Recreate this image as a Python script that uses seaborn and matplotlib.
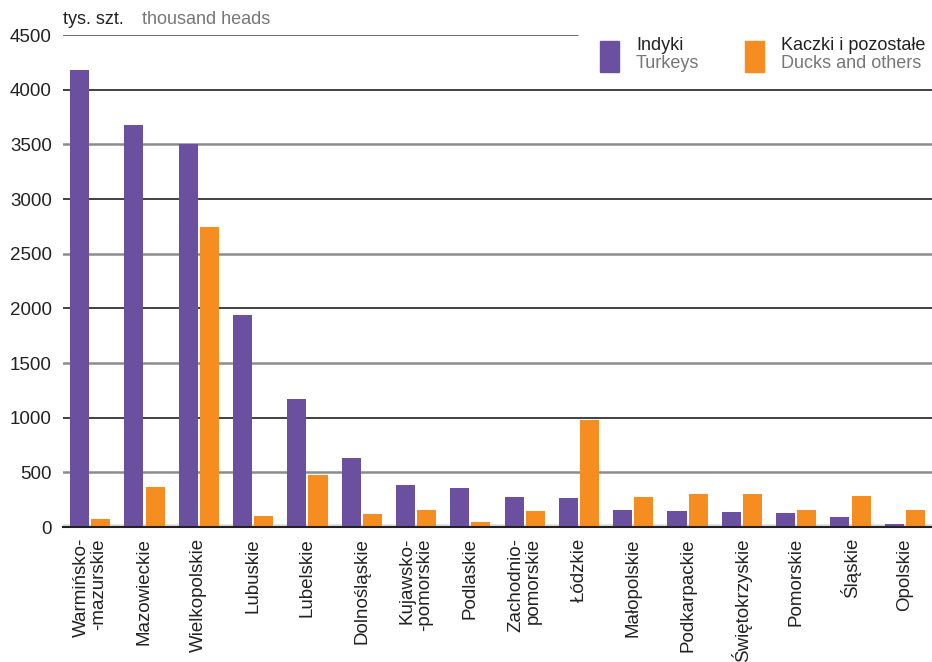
import pandas as pd
import seaborn as sns
import matplotlib.pyplot as plt
from matplotlib.patches import Rectangle

# Data (thousand heads)
regions = ['Warmińsko-\n-mazurskie', 'Mazowieckie', 'Wielkopolskie', 'Lubuskie',
           'Lubelskie', 'Dolnośląskie', 'Kujawsko-\n-pomorskie', 'Podlaskie',
           'Zachodnio-\npomorskie', 'Łódzkie', 'Małopolskie', 'Podkarpackie',
           'Świętokrzyskie', 'Pomorskie', 'Śląskie', 'Opolskie']
turkeys = [4180, 3680, 3505, 1938, 1168, 628, 380, 353, 270, 261, 151, 142, 133, 124, 96, 32]
ducks = [70, 362, 2745, 105, 472, 115, 151, 50, 142, 977, 270, 298, 298, 160, 280, 160]
series_pl = ['Indyki', 'Kaczki i pozostałe']
series_en = ['Turkeys', 'Ducks and others']
yticks = [0, 500, 1000, 1500, 2000, 2500, 3000, 3500, 4000, 4500]

purple = '#6b50a0'
orange = '#f58d20'

df = pd.DataFrame({'region': regions * 2,
                   'value': turkeys + ducks,
                   'series': [series_pl[0]] * len(regions) + [series_pl[1]] * len(regions)})

sns.set_style('white')
plt.rcParams['font.family'] = ['Liberation Sans', 'DejaVu Sans']

fig = plt.figure(figsize=(9.32, 6.62), dpi=100)
ax = fig.add_axes([63 / 932, 1 - 527 / 662, 1 - 63 / 932, (527 - 35) / 662])

# Gridlines: dark at thousands, grey at the halves
for v in yticks[1:-1]:
    if v % 1000 == 0:
        ax.axhline(v, color='#333333', lw=1.3, zorder=0)
    else:
        ax.axhline(v, color='#8c8c8c', lw=1.8, zorder=0)
ax.axhline(4500, xmax=(578 - 63) / (932 - 63), color='#555555', lw=1.2, zorder=0)
ax.axhline(0, color='#dddddd', lw=4, zorder=0)

sns.barplot(data=df, x='region', y='value', hue='series', palette=[purple, orange],
            width=0.78, gap=0.1, saturation=1, legend=False, ax=ax, zorder=2,
            edgecolor='none', linewidth=0)

ax.set_xlim(-0.5, len(regions) - 0.5)
ax.set_ylim(0, 4500)
ax.set_yticks(yticks)
ax.set_yticklabels([str(v) for v in yticks], fontsize=13.5, color='#222222')
ax.tick_params(axis='y', length=0, pad=8)
ax.tick_params(axis='x', length=0, pad=8)
ax.set_xticks(range(len(regions)))
ax.set_xticklabels(regions, rotation=90, fontsize=13.5, color='#222222',
                   ha='center', va='top', multialignment='right', linespacing=1.05)
ax.set_xlabel('')
ax.set_ylabel('')
for s in ['left', 'right', 'top']:
    ax.spines[s].set_visible(False)
ax.spines['bottom'].set_color('#222222')
ax.spines['bottom'].set_linewidth(1.5)
ax.spines['bottom'].set_zorder(3)

# Unit header
fig.text(63 / 932, 1 - 20 / 662, 'tys. szt.', fontsize=13, color='#222222', va='center')
fig.text(142 / 932, 1 - 20 / 662, 'thousand heads', fontsize=13, color='#777777', va='center')

# Legend
for x0, col, pl, en in [(600, purple, series_pl[0], series_en[0]),
                        (745, orange, series_pl[1], series_en[1])]:
    fig.patches.append(Rectangle((x0 / 932, 1 - 72 / 662), 19 / 932, 31 / 662,
                                 transform=fig.transFigure, color=col))
    fig.text((x0 + 36) / 932, 1 - 46 / 662, pl, fontsize=13, color='#222222', va='center')
    fig.text((x0 + 36) / 932, 1 - 63 / 662, en, fontsize=13, color='#777777', va='center')

fig.savefig('out.png', dpi=100)
